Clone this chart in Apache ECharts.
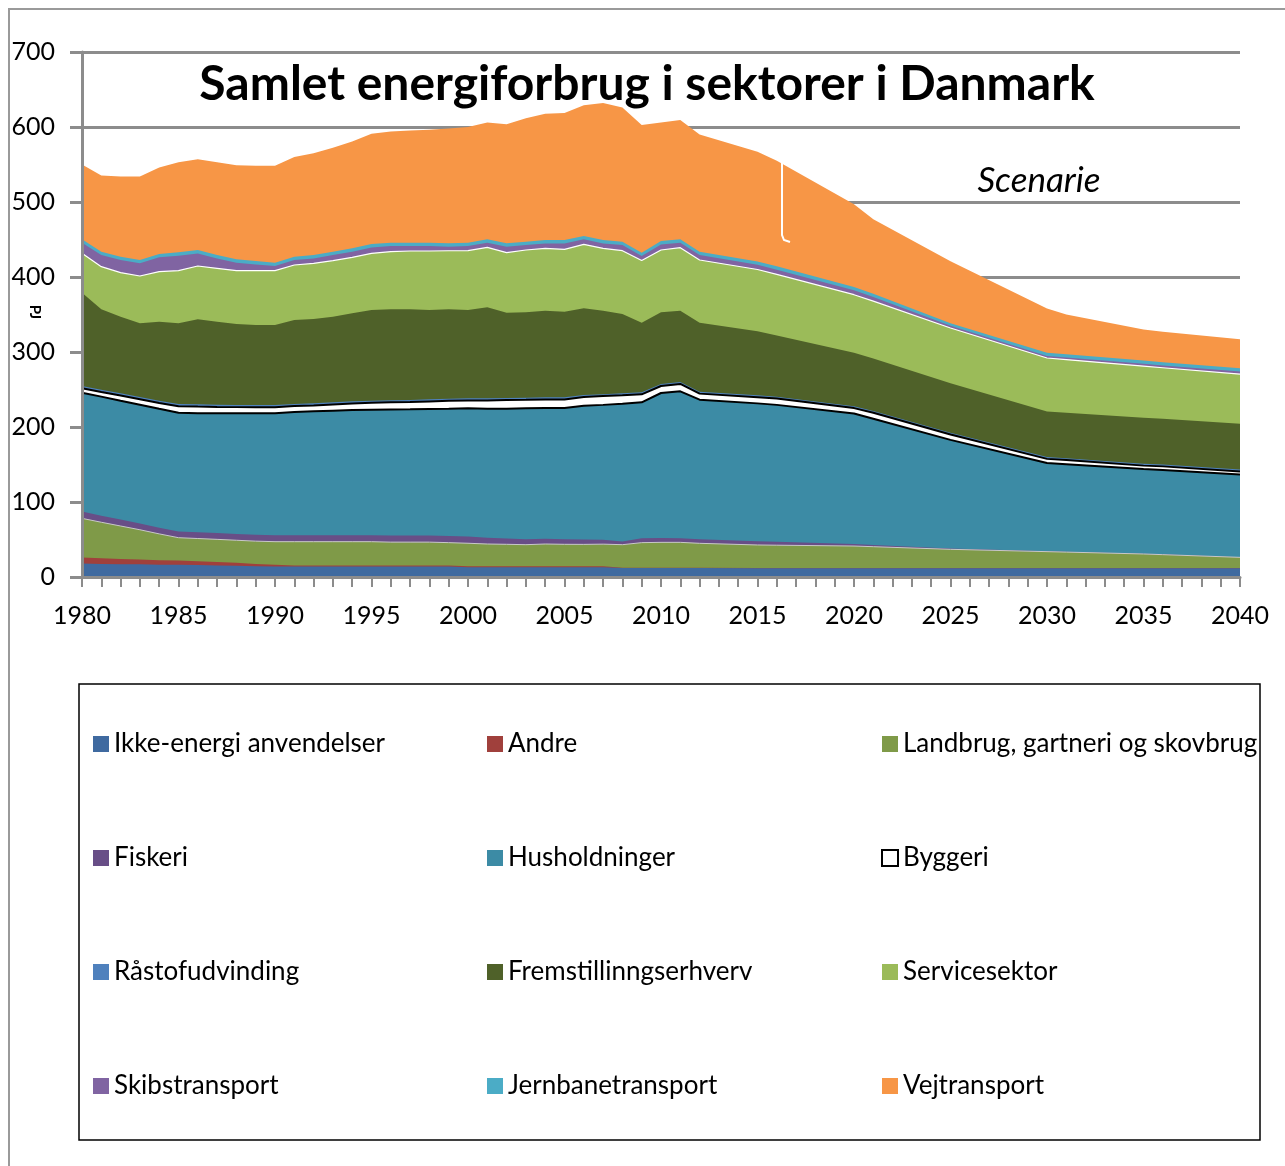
<!DOCTYPE html>
<html>
<head>
<meta charset="utf-8">
<script src="https://cdn.jsdelivr.net/npm/echarts@6/dist/echarts.min.js"></script>
<style>
  html, body { margin: 0; padding: 0; background: #ffffff; }
  #chart { width: 1285px; height: 1166px; }
</style>
</head>
<body>
<div id="chart"></div>
<script>
// ---- Data (PJ) ----
const years = [1980,1981,1982,1983,1984,1985,1986,1987,1988,1989,1990,
  1991,1992,1993,1994,1995,1996,1997,1998,1999,2000,
  2001,2002,2003,2004,2005,2006,2007,2008,2009,2010,2011,2012,
  2015,2016,2020,2021,2025,2030,2031,2035,2036,2040];

const ikkeEnergi = [18,17.5,17,17,16.5,16.5,16,15.5,15,14.5,14,
  14,14,14,14,14,14,14,14,14,
  13,13,13,13,13,13,13,13,
  12,12,12,12,12,
  11.6,11.6,11.6,11.6,11.6,11.6,11.6,11.6,11.6,11.6];

const andre = [8,7.5,7,6.5,6,5.5,5,4.5,4,3,2.2,
  1.2,1.2,1.2,1.2,1.2,1.2,1.2,1.2,1.2,
  1.2,1.2,1.2,1.2,1.2,1.2,1.2,1.2,
  0.5,0.5,0.5,0.5,0.5,
  0.5,0.5,0.5,0.5,0.5,0.5,0.5,0.5,0.5,0.5];

const landbrug = [52.2,48,44,39.5,35,30.4,30.3,30.2,30,30.3,30.9,
  31.9,31.9,31.9,31.9,31.9,31.3,31.3,31.3,30.6,
  30.8,29.8,29.4,28.9,29.8,29.4,29.3,29.6,
  30.6,33.3,33.7,33.7,32.4,
  30.6,30.3,29.2,28.3,24.8,21.7,21.1,18.6,17.7,14.1];

const fiskeri = [9,8.8,8.6,8.4,8.2,8.2,8.4,8.5,8.5,8.5,8.5,
  8.7,8.7,8.7,8.7,8.7,8.8,8.8,8.8,8.9,
  8.9,8.4,7.8,7.3,7,6.7,6.4,6,
  4.4,5.8,5.8,5.6,5.3,
  4.9,4.7,2.7,2.4,1.2,0.5,0.5,0.4,0.4,0.3];

const husholdninger = [158.6,158.7,158.5,158.4,158.7,158.5,158.5,159.5,160.7,161.9,162.6,
  164.2,165.1,166,166.9,167.2,168,168.3,168.7,169.7,
  171.1,172,173,174.6,174.3,175,178.5,179.7,
  183.6,181.3,193.3,195.8,186.2,
  183.9,182.4,174,168.2,144.7,117.7,116.7,112.8,112.6,110.3];

const byggeri = [5.9,6.3,6.9,7.2,7.6,8.6,9,8.6,8.3,8.1,8.1,
  7.9,7.9,8.3,8.7,9.3,9.7,9.6,10.1,10.6,
  10.4,11,11.5,11.2,11.5,11.5,11.7,11.7,
  11.2,10.7,9.4,9.8,8.1,
  8.3,8.5,7.2,8,7.2,5.5,5.6,4.6,4.7,4];

const raastof = [3,3,3,3,3,3,3,3,3,3,3,
  2.8,2.8,2.8,2.8,2.8,2.8,2.8,2.8,2.8,
  2.8,2.8,2.8,2.8,2.8,2.8,2.6,2.6,
  2.6,2.6,2.6,2.6,2.6,
  2.5,2.5,2.5,2.5,2.5,2.5,2.5,2.5,2.5,2.5];

const fremstilling = [124.4,107.1,102.1,98.2,105.4,107.5,113.4,110.6,107.8,106.7,106.7,
  112,112.4,114.2,117.4,120.9,121.1,121,119.1,119.1,
  117.8,121.4,113.7,113.9,115.5,114.2,115.5,111.3,
  105.8,92.9,95.6,95.1,92,
  85.4,81.5,71.3,69.7,66,60.7,60.5,61.5,61,61.1];

const service = [52.5,56.9,58.7,63.1,66.7,70.2,71.1,71.2,71.1,72.4,72.4,
  73.3,74.2,74.7,74.6,75.6,76.9,77.7,78.7,78.1,
  79.1,80,80,83.1,83.1,83.1,85.4,83.1,
  84.4,82.8,83.1,84,83.6,
  82.3,81.4,77.4,76.6,73.5,71.3,70.9,68.7,68,66];

const skib = [14.1,15.5,16.8,16.9,19.1,20,16.8,13.2,10.7,8.4,6.2,
  6.6,6.6,7.5,7.5,7.9,7.5,6.6,6.6,5.5,
  6.2,6.1,8.1,6.6,6.6,7.9,6.6,6.6,
  7.5,6,7.5,6.6,6.6,
  6.3,6.3,5.8,5.5,3,2.7,2.7,3,3,3.6];

const jernbane = [4.5,4.5,4.5,4.5,4.5,4.5,4.5,4.5,4.5,4.5,4.5,
  4.5,4.5,4.5,4.5,4.5,4.5,4.5,4.5,4.5,
  4.5,4.5,4.5,4.5,4.5,4.5,4.5,4.5,
  4.5,4.5,4.5,4.5,4.5,
  4.5,4.5,4.5,4.5,3.5,4.3,4.3,4.5,4.5,4.5];

const vej = [99.8,101.7,106.9,111.3,115.3,120.1,121,123.7,125.4,127.2,129.4,
  132.9,135.7,138.7,142.5,147,148.2,149.6,150.7,153,
  154.2,155.8,158.6,164.6,168.4,169.5,174.3,182.7,
  178.9,170.3,158,159.3,156.2,
  146.2,140.8,110.3,99.2,82.5,59,53.1,41.3,40.5,38.5];

const seriesNames = ['Ikke-energi anvendelser','Andre','Landbrug, gartneri og skovbrug','Fiskeri',
  'Husholdninger','Byggeri','Råstofudvinding','Fremstillinngserhverv','Servicesektor',
  'Skibstransport','Jernbanetransport','Vejtransport'];
const seriesValues = [ikkeEnergi, andre, landbrug, fiskeri, husholdninger, byggeri, raastof,
  fremstilling, service, skib, jernbane, vej];
const seriesColors = ['#3F6AA0','#A0403C','#7F9A48','#684E87','#3C8BA5','#FFFFFF','#4F81BD',
  '#4F6129','#9BBB59','#8064A2','#4BACC6','#F79646'];

const yTicks = [0,100,200,300,400,500,600,700];
const xLabelYears = [1980,1985,1990,1995,2000,2005,2010,2015,2020,2025,2030,2035,2040];

const titleText = 'Samlet energiforbrug i sektorer i Danmark';
const scenarieText = 'Scenarie';
const unitText = 'PJ';

const FONT = 'Lato, "Open Sans", sans-serif';
const GRAY = '#8C8C8C';

// Stack the layers (running totals), bottom to top.
const cumulative = [];
seriesValues.forEach((vals, i) => {
  cumulative.push(vals.map((v, k) => (i === 0 ? 0 : cumulative[i - 1][k]) + v));
});

const lineStyles = {
  'Husholdninger': { width: 2, color: '#000' },
  'Byggeri': { width: 2, color: '#000' },
  'Servicesektor': { width: 1.2, color: '#ffffff' },
  'Landbrug, gartneri og skovbrug': { width: 1, color: '#c8c8c8' }
};

// Draw from the top layer down so each lower layer covers the one above it.
const series = seriesNames.map((name, i) => ({
  name: name,
  type: 'line',
  xAxisIndex: 0,
  yAxisIndex: 0,
  symbol: 'none',
  showSymbol: false,
  z: 2,
  color: seriesColors[i],
  itemStyle: { color: seriesColors[i] },
  lineStyle: lineStyles[name] || { width: 0 },
  areaStyle: { color: seriesColors[i], opacity: 1, origin: 'start' },
  emphasis: { disabled: true },
  data: years.map((y, k) => [y, cumulative[i][k]])
})).reverse();

function legendCol(names, left) {
  return {
    orient: 'vertical',
    left: left,
    top: 725,
    itemGap: 86,
    icon: 'rect',
    itemWidth: 16,
    itemHeight: 16,
    selectedMode: false,
    textStyle: { fontFamily: FONT, fontSize: 26, color: '#000', lineHeight: 28 },
    data: names.map(n => n === 'Byggeri'
      ? { name: n, itemStyle: { color: '#ffffff', borderColor: '#000', borderWidth: 2 } }
      : { name: n, itemStyle: { borderWidth: 0 } })
  };
}

const chart = echarts.init(document.getElementById('chart'), null, { renderer: 'canvas' });
chart.setOption({
  animation: false,
  backgroundColor: '#ffffff',
  grid: { left: 82, right: 45, top: 52, bottom: 589, containLabel: false },
  xAxis: {
    type: 'value',
    min: 1980, max: 2040, interval: 5,
    z: 10,
    axisLine: { show: true, lineStyle: { color: GRAY, width: 3 } },
    axisTick: { show: true, length: 10, lineStyle: { color: GRAY, width: 2 } },
    minorTick: { show: true, splitNumber: 5, length: 10, lineStyle: { color: GRAY, width: 2 } },
    splitLine: { show: false },
    axisLabel: {
      margin: 26, fontFamily: FONT, fontSize: 25, color: '#000',
      formatter: v => xLabelYears.includes(v) ? String(v) : ''
    }
  },
  yAxis: [
    {
      // gridlines and labels, behind the areas
      type: 'value',
      min: 0, max: 700, interval: 100,
      z: 0,
      axisLine: { show: false },
      axisTick: { show: false },
      splitLine: { show: true, lineStyle: { color: GRAY, width: 3 } },
      axisLabel: {
        margin: 27, fontFamily: FONT, fontSize: 25, color: '#000',
        formatter: v => yTicks.includes(v) ? String(v) : ''
      }
    },
    {
      // axis line and ticks, above the areas
      type: 'value',
      position: 'left',
      min: 0, max: 700, interval: 100,
      z: 10,
      axisLine: { show: true, onZero: false, lineStyle: { color: GRAY, width: 3 } },
      axisTick: { show: true, length: 12, lineStyle: { color: GRAY, width: 3 } },
      splitLine: { show: false },
      axisLabel: { show: false }
    }
  ],
  legend: [
    legendCol(['Ikke-energi anvendelser','Fiskeri','Råstofudvinding','Skibstransport'], 88),
    legendCol(['Andre','Husholdninger','Fremstillinngserhverv','Jernbanetransport'], 482),
    legendCol(['Landbrug, gartneri og skovbrug','Byggeri','Servicesektor','Vejtransport'], 876)
  ],
  graphic: [
    { type: 'rect', z: -10, shape: { x: 9, y: 9, width: 1320, height: 1200 },
      style: { fill: 'none', stroke: '#9A9A9A', lineWidth: 2 } },
    { type: 'rect', z: 1, shape: { x: 79, y: 684, width: 1181, height: 456 },
      style: { fill: 'none', stroke: '#000', lineWidth: 1.5 } },
    { type: 'text', z: 100, x: 647, y: 85,
      style: { text: titleText, fontFamily: FONT, fontWeight: 'bold', fontSize: 48,
        fill: '#000', textAlign: 'center', textVerticalAlign: 'middle' } },
    { type: 'text', z: 100, x: 1039, y: 181,
      style: { text: scenarieText, fontFamily: FONT, fontStyle: 'italic', fontSize: 35,
        fill: '#000', textAlign: 'center', textVerticalAlign: 'middle' } },
    { type: 'polyline', z: 100, shape: { points: [[782,162],[782,235],[784,240],[790,242]] },
      style: { stroke: '#ffffff', lineWidth: 2, fill: 'none' } },
    { type: 'text', z: 100, x: 35, y: 312, rotation: -Math.PI / 2,
      style: { text: unitText, fontFamily: FONT, fontWeight: 'bold', fontSize: 15,
        fill: '#000', textAlign: 'center', textVerticalAlign: 'middle' } }
  ],
  series: series
});
</script>
</body>
</html>
